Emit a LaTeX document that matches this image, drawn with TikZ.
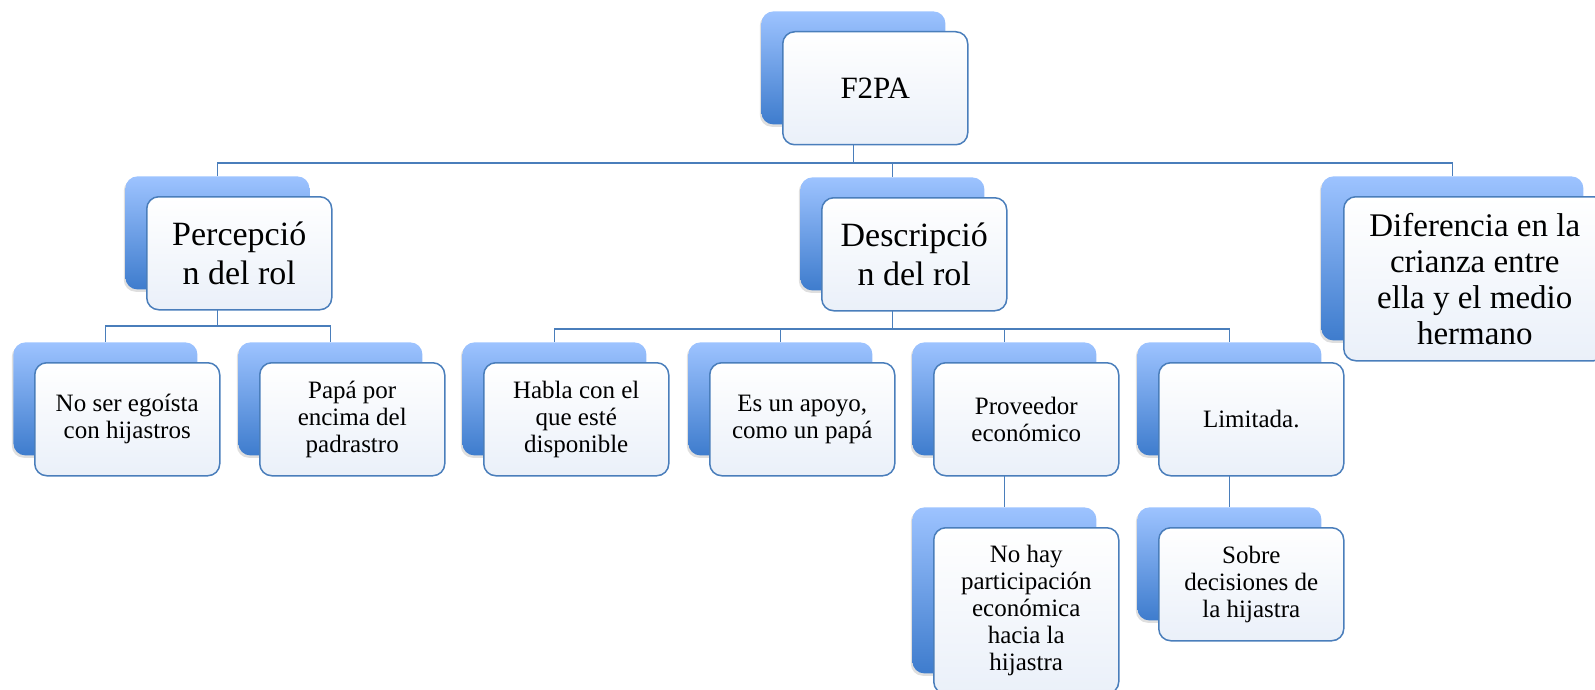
\documentclass[tikz,border=0pt]{standalone}
\usepackage{fontspec}
\setmainfont{Liberation Serif}
\usetikzlibrary{positioning}
\usetikzlibrary{shadows}

\definecolor{lineblue}{RGB}{74,126,187}
\definecolor{topblue}{RGB}{157,195,255}
\definecolor{bottomblue}{RGB}{62,124,205}
\definecolor{paleblue}{RGB}{234,240,249}

\tikzset{
  backbox/.style={anchor=north west, rounded corners=6pt, draw=none,
    minimum width=92pt, minimum height=56.5pt,
    top color=topblue, bottom color=bottomblue,
    drop shadow={shadow xshift=-0.8pt, shadow yshift=-1.2pt, opacity=0.25}},
  frontbox/.style={rounded corners=6pt, draw=lineblue, line width=0.75pt,
    minimum width=92.5pt, minimum height=56.5pt, inner sep=0pt, align=center,
    top color=white, bottom color=paleblue},
  conn/.style={draw=lineblue, line width=0.9pt},
  toptext/.style={font=\fontsize{15.5}{18}\selectfont},
  midtext/.style={font=\fontsize{17}{19.5}\selectfont},
  lowtext/.style={font=\fontsize{12.5}{13.5}\selectfont}
}

\begin{document}
\begin{tikzpicture}[x=0.5pt, y=-0.5pt]
  \useasboundingbox (0,0) rectangle (1595,690);

  % back boxes
  \node[backbox] (f2pa) at (761,11) {};
  \node[backbox] (perc) at (125,176) {};
  \node[backbox] (desc) at (800,177) {};
  \node[backbox, minimum width=131pt, minimum height=82pt] (dif) at (1321,176) {};
  \node[backbox] (noser) at (13,342) {};
  \node[backbox] (papa) at (238,342) {};
  \node[backbox] (habla) at (462,342) {};
  \node[backbox] (apoyo) at (688,342) {};
  \node[backbox] (prov) at (912,342) {};
  \node[backbox] (limit) at (1137,342) {};
  \node[backbox, minimum height=83pt] (nohay) at (912,507) {};
  \node[backbox] (sobre) at (1137,507) {};

  % connectors
  \draw[conn] (f2pa.south) -- ++(0,38) -| (perc.north);
  \draw[conn] (f2pa.south) -- ++(0,38) -| (desc.north);
  \draw[conn] (f2pa.south) -- ++(0,38) -| (dif.north);
  \draw[conn] (perc.south) -- ++(0,36) -| (noser.north);
  \draw[conn] (perc.south) -- ++(0,36) -| (papa.north);
  \foreach \k in {habla, apoyo, prov, limit}{
    \draw[conn] (desc.south) -- ++(0,38) -| (\k.north);
  }
  \draw[conn] (prov.south) -- (nohay.north);
  \draw[conn] (limit.south) -- (sobre.north);

  % front boxes with text
  \node[frontbox, toptext, below right=10pt and 10.5pt of f2pa.north west] (f2pa-t) {F2PA};
  \node[frontbox, midtext, below right=10pt and 10.5pt of perc.north west] (perc-t) {Percepció\\n del rol};
  \node[frontbox, midtext, below right=10pt and 10.5pt of desc.north west] (desc-t) {Descripció\\n del rol};
  \node[frontbox, font=\fontsize{16.5}{18}\selectfont, minimum width=131pt, minimum height=82pt,
    below right=10pt and 11pt of dif.north west] (dif-t) {Diferencia en la\\crianza entre\\ella y el medio\\hermano};
  \node[frontbox, lowtext, below right=10pt and 10.5pt of noser.north west] (noser-t) {No ser egoísta\\con hijastros};
  \node[frontbox, lowtext, below right=10pt and 10.5pt of papa.north west] (papa-t) {Papá por\\encima del\\padrastro};
  \node[frontbox, lowtext, below right=10pt and 10.5pt of habla.north west] (habla-t) {Habla con el\\que esté\\disponible};
  \node[frontbox, lowtext, below right=10pt and 10.5pt of apoyo.north west] (apoyo-t) {Es un apoyo,\\como un papá};
  \node[frontbox, lowtext, below right=10pt and 10.5pt of prov.north west] (prov-t) {Proveedor\\económico};
  \node[frontbox, lowtext, below right=10pt and 10.5pt of limit.north west] (limit-t) {Limitada.};
  \node[frontbox, lowtext, minimum height=83pt, below right=10pt and 10.5pt of nohay.north west] (nohay-t) {No hay\\participación\\económica\\hacia la\\hijastra};
  \node[frontbox, lowtext, below right=10pt and 10.5pt of sobre.north west] (sobre-t) {Sobre\\decisiones de\\la hijastra};
\end{tikzpicture}
\end{document}
